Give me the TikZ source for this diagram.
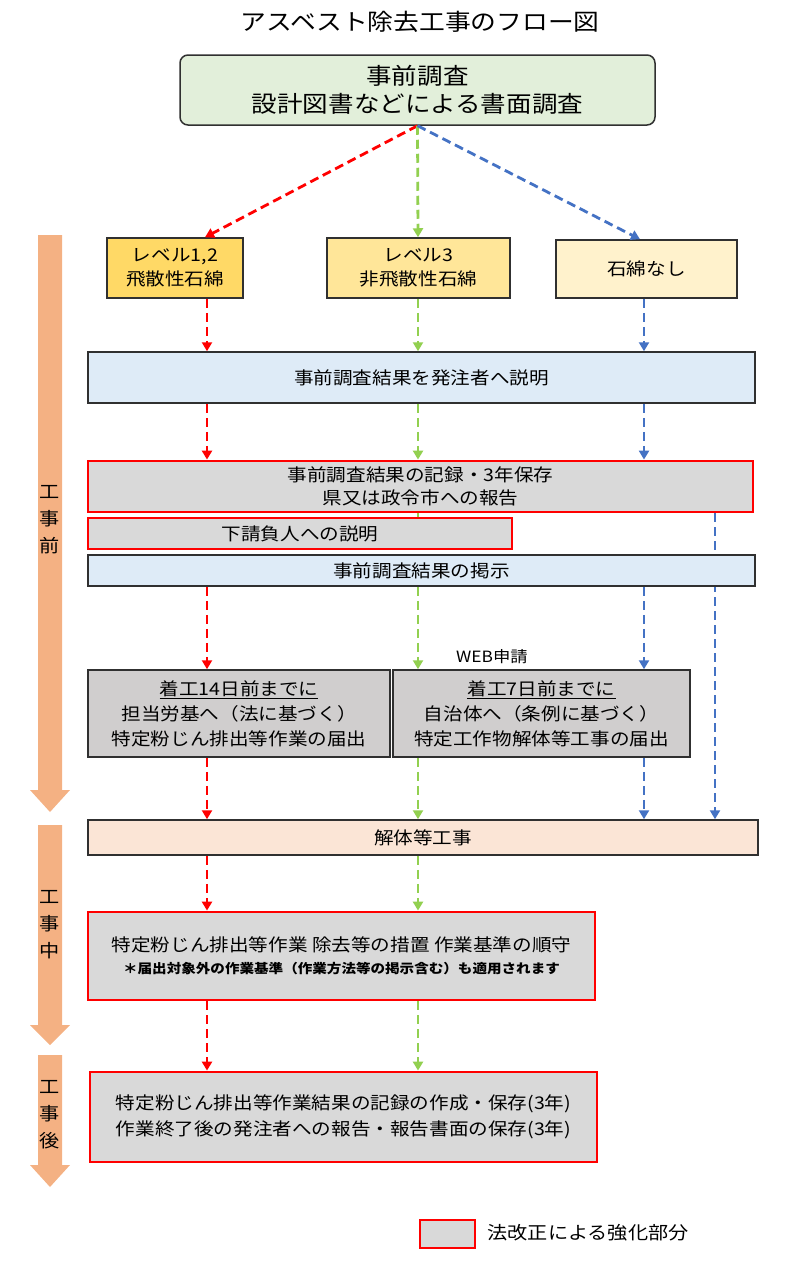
\documentclass[tikz,border=0pt]{standalone}
\usepackage{fontspec}
\setmainfont{Noto Sans CJK JP}[FakeStretch=1.12]
\usetikzlibrary{arrows.meta}
\pgfdeclarelayer{background}
\pgfsetlayers{background,main}
\definecolor{cred}{HTML}{FF0000}
\definecolor{cgreen}{HTML}{92D050}
\definecolor{cblue}{HTML}{4472C4}
\definecolor{ctopfill}{HTML}{E2EFDA}
\definecolor{clv1}{HTML}{FFD966}
\definecolor{clv2}{HTML}{FFE699}
\definecolor{clv3}{HTML}{FFF2CC}
\definecolor{cblfill}{HTML}{DEEBF7}
\definecolor{cgray}{HTML}{D9D9D9}
\definecolor{cgray2}{HTML}{D0CECE}
\definecolor{cpeach}{HTML}{FBE5D6}
\definecolor{corange}{HTML}{F4B183}
\definecolor{cline}{HTML}{303030}
\begin{document}
\begin{tikzpicture}[x=1pt,y=-1pt,
  txt/.style={font=\fontsize{17.5}{24}\selectfont},
  bx/.style={draw=cline, line width=1.5pt, inner sep=0pt, align=center, txt},
  redbx/.style={bx, draw=cred, line width=2.8pt, fill=cgray},
  flow/.style={dash pattern=on 9pt off 5pt, line width=2.8pt, -{Triangle[length=9pt,width=10pt]}},
  side/.style={fill=corange, draw=none}
]
\useasboundingbox (0,0) rectangle (800,1282);

% title
\node[font=\fontsize{23}{26}\selectfont] (title) at (420,22) {アスベスト除去工事のフロー図};

% top box
\node[bx, rounded corners=8pt, fill=ctopfill, minimum width=475pt, minimum height=70pt,
      font=\fontsize{22.8}{28}\selectfont] (top) at (417.5,90) {事前調査\\設計図書などによる書面調査};

% level boxes
\node[bx, fill=clv1, minimum width=136pt, minimum height=60pt] (lv1) at (175,268) {レベル1,2\\飛散性石綿};
\node[bx, fill=clv2, minimum width=183pt, minimum height=60pt] (lv2) at (418.5,268) {レベル3\\非飛散性石綿};
\node[bx, fill=clv3, minimum width=181pt, minimum height=58pt] (lv3) at (646.5,269) {石綿なし};

% main boxes
\node[bx, fill=cblfill, minimum width=667pt, minimum height=51pt] (b1) at (421.5,377.5) {事前調査結果を発注者へ説明};
\node[redbx, minimum width=665pt, minimum height=51pt, font=\fontsize{17.5}{23}\selectfont] (b2) at (420.5,486.5) {事前調査結果の記録・3年保存\\県又は政令市への報告};
\node[redbx, minimum width=424pt, minimum height=31pt] (b3) at (300,533.5) {下請負人への説明};
\node[bx, fill=cblfill, minimum width=667pt, minimum height=31pt] (b4) at (421.5,570.5) {事前調査結果の掲示};
\node[bx, fill=cgray2, minimum width=302pt, minimum height=87pt, font=\fontsize{17.5}{25}\selectfont] (b5) at (239,713.5)
  {\underline{着工14日前までに}\\担当労基へ（法に基づく）\\特定粉じん排出等作業の届出};
\node[bx, fill=cgray2, minimum width=297pt, minimum height=87pt, font=\fontsize{17.5}{25}\selectfont] (b6) at (541.5,713.5)
  {\underline{着工7日前までに}\\自治体へ（条例に基づく）\\特定工作物解体等工事の届出};
\node[font=\fontsize{15.5}{18}\selectfont] (web) at (492,657) {WEB申請};
\node[bx, fill=cpeach, minimum width=670pt, minimum height=35pt] (b7) at (423,837.5) {解体等工事};
\node[redbx, minimum width=507pt, minimum height=88pt] (b8) at (341.5,956)
  {特定粉じん排出等作業 除去等の措置 作業基準の順守\\[-2pt]{\bfseries\fontsize{13}{16}\selectfont ＊届出対象外の作業基準（作業方法等の掲示含む）も適用されます}};
\node[redbx, minimum width=507pt, minimum height=90pt, font=\fontsize{17.5}{26}\selectfont] (b9) at (343.5,1117)
  {特定粉じん排出等作業結果の記録の作成・保存(3年)\\作業終了後の発注者への報告・報告書面の保存(3年)};

% legend
\node[redbx, minimum width=55pt, minimum height=28pt] (leg) at (447.5,1234) {};
\node[anchor=west, font=\fontsize{18}{20}\selectfont] (legt) at (484,1233) {法改正による強化部分};

% side arrows
\fill[side] (38,235) -- (62,235) -- (62,790) -- (70,790) -- (50,812) -- (30,790) -- (38,790) -- cycle;
\fill[side] (38,825) -- (62,825) -- (62,1025) -- (70,1025) -- (50,1045) -- (30,1025) -- (38,1025) -- cycle;
\fill[side] (38,1055) -- (62,1055) -- (62,1165) -- (70,1165) -- (50,1187) -- (30,1165) -- (38,1165) -- cycle;
\node[align=center, font=\fontsize{18}{27}\selectfont] (s1) at (50,520) {工\\事\\前};
\node[align=center, font=\fontsize{18}{27}\selectfont] (s2) at (50,925) {工\\事\\中};
\node[align=center, font=\fontsize{18}{27}\selectfont] (s3) at (50,1115) {工\\事\\後};

% column x positions
\coordinate (cr) at (207,0);
\coordinate (cg) at (418,0);
\coordinate (cb) at (644,0);
\coordinate (cb2) at (715,0);
\coordinate (cr1) at (205,0);
\coordinate (cb1) at (640,0);

% connectors
\draw[flow, cred] (top.south) -- (lv1.north -| cr1);
\draw[flow, cgreen] (top.south) -- (lv2.north -| cg);
\draw[flow, cblue] (top.south) -- (lv3.north -| cb1);

\draw[flow, cred] (lv1.south -| cr) -- (b1.north -| cr);
\draw[flow, cgreen] (lv2.south -| cg) -- (b1.north -| cg);
\draw[flow, cblue] (lv3.south -| cb) -- (b1.north -| cb);

\draw[flow, cred] (b1.south -| cr) -- (b2.north -| cr);
\draw[flow, cgreen] (b1.south -| cg) -- (b2.north -| cg);
\draw[flow, cblue] (b1.south -| cb) -- (b2.north -| cb);

\begin{pgfonlayer}{background}
\draw[flow, cblue] (b2.south -| cb2) -- (b7.north -| cb2);
\draw[dash pattern=on 9pt off 5pt, line width=2.8pt, cgreen] (b2.south -| cg) -- (b4.north -| cg);
\end{pgfonlayer}

\draw[flow, cred] (b4.south -| cr) -- (b5.north -| cr);
\draw[flow, cgreen] (b4.south -| cg) -- (b6.north -| cg);
\draw[flow, cblue] (b4.south -| cb) -- (b6.north -| cb);

\draw[flow, cred] (b5.south -| cr) -- (b7.north -| cr);
\draw[flow, cgreen] (b6.south -| cg) -- (b7.north -| cg);
\draw[flow, cblue] (b6.south -| cb) -- (b7.north -| cb);

\draw[flow, cred] (b7.south -| cr) -- (b8.north -| cr);
\draw[flow, cgreen] (b7.south -| cg) -- (b8.north -| cg);

\draw[flow, cred] (b8.south -| cr) -- (b9.north -| cr);
\draw[flow, cgreen] (b8.south -| cg) -- (b9.north -| cg);
\end{tikzpicture}
\end{document}
